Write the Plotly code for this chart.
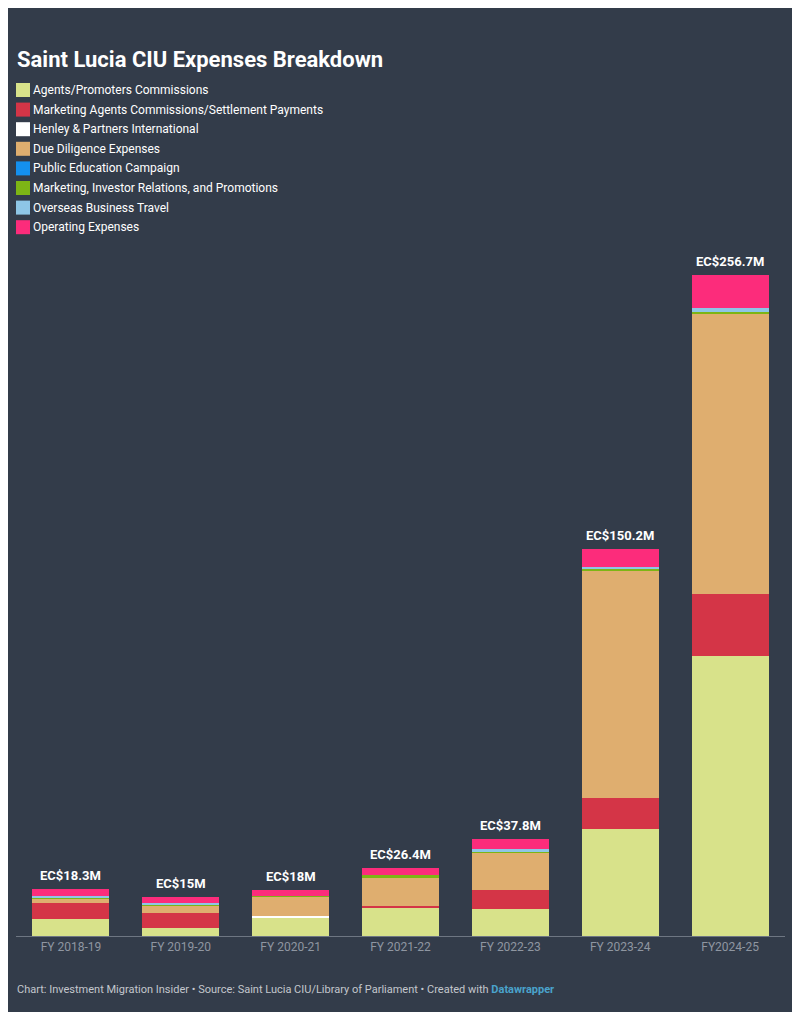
import plotly.graph_objects as go

# Saint Lucia CIU expenses, EC$ millions
years = ["FY 2018-19", "FY 2019-20", "FY 2020-21", "FY 2021-22",
         "FY 2022-23", "FY 2023-24", "FY2024-25"]

agents = [6.7, 3.1, 7.1, 10.8, 10.4, 41.4, 108.7]
marketing_agents = [6.2, 6.0, 0.0, 1.0, 7.4, 12.0, 24.0]
henley = [0.0, 0.0, 0.5, 0.0, 0.0, 0.0, 0.0]
due_diligence = [1.6, 2.7, 7.6, 10.7, 14.7, 88.5, 109.1]
public_education = [0.0, 0.0, 0.0, 0.0, 0.0, 0.0, 0.0]
marketing_ir = [0.2, 0.5, 0.2, 1.3, 0.3, 0.5, 0.4]
overseas_travel = [1.0, 0.6, 0.0, 0.0, 1.1, 0.8, 1.8]
operating = [2.6, 2.1, 2.6, 2.6, 3.9, 7.0, 12.7]

totals = [18.3, 15, 18, 26.4, 37.8, 150.2, 256.7]

series = [
    ("Agents/Promoters Commissions", agents, "#d8e28a"),
    ("Marketing Agents Commissions/Settlement Payments", marketing_agents, "#d43547"),
    ("Henley & Partners International", henley, "#ffffff"),
    ("Due Diligence Expenses", due_diligence, "#dfae6f"),
    ("Public Education Campaign", public_education, "#1490ee"),
    ("Marketing, Investor Relations, and Promotions", marketing_ir, "#7db515"),
    ("Overseas Business Travel", overseas_travel, "#8ec6e6"),
    ("Operating Expenses", operating, "#fc2c7b"),
]

BG = "#333c4a"
W, H = 789, 1004
ML, MR, MT, MB = 8, 12, 250, 76
PW, PH = W - ML - MR, H - MT - MB


def px(fx):
    return (fx - ML) / PW


def py(fy):
    return (H - MB - fy) / PH


fig = go.Figure()
for name, vals, color in series:
    fig.add_trace(go.Bar(
        x=years, y=vals, name=name,
        marker=dict(color=color, line=dict(width=0)),
    ))

for yr, t in zip(years, totals):
    fig.add_annotation(
        x=yr, y=t, text=f"<b>EC${t:g}M</b>", showarrow=False,
        yanchor="bottom", yshift=4,
        font=dict(family="Roboto", size=13, color="#ffffff"),
    )

# key drawn by hand so swatch/text spacing matches the original
for i, (name, vals, color) in enumerate(series):
    cy = 82 + i * 19.6
    fig.add_shape(
        type="rect", xref="paper", yref="paper",
        x0=px(8), x1=px(22), y0=py(cy - 7), y1=py(cy + 7),
        fillcolor=color, line=dict(width=0),
    )
    fig.add_annotation(
        xref="paper", yref="paper", x=px(23), y=py(cy),
        xanchor="left", yanchor="middle", showarrow=False,
        text=name, font=dict(family="Roboto", size=12, color="#ffffff"),
    )

# footer / credit line
fig.add_annotation(
    xref="paper", yref="paper", x=px(7), y=py(982),
    xanchor="left", yanchor="middle", showarrow=False,
    text="Chart: Investment Migration Insider • Source: Saint Lucia CIU/Library of Parliament"
         " • Created with <span style='color:#4aa3cc'><b>Datawrapper</b></span>",
    font=dict(family="Roboto", size=11, color="#c3c7cd"),
)

fig.update_layout(
    width=W, height=H,
    paper_bgcolor=BG, plot_bgcolor=BG,
    barmode="stack", bargap=0.3,
    margin=dict(l=ML, r=MR, t=MT, b=MB),
    title=dict(
        text="<b>Saint Lucia CIU Expenses Breakdown</b>",
        xref="container", yref="container", x=9 / W, y=1 - 51 / H,
        xanchor="left", yanchor="middle",
        font=dict(family="Roboto", size=22, color="#ffffff"),
    ),
    font=dict(family="Roboto"),
    showlegend=False,
)

fig.update_xaxes(
    showgrid=False, showline=True, linecolor="#6e7682", linewidth=1,
    ticks="", tickfont=dict(family="Roboto", size=12, color="#8f96a1"),
    fixedrange=True,
)
fig.update_yaxes(
    range=[0, 263.3], showgrid=False, zeroline=False, showticklabels=False,
    fixedrange=True,
)

fig.write_html("out.html")
